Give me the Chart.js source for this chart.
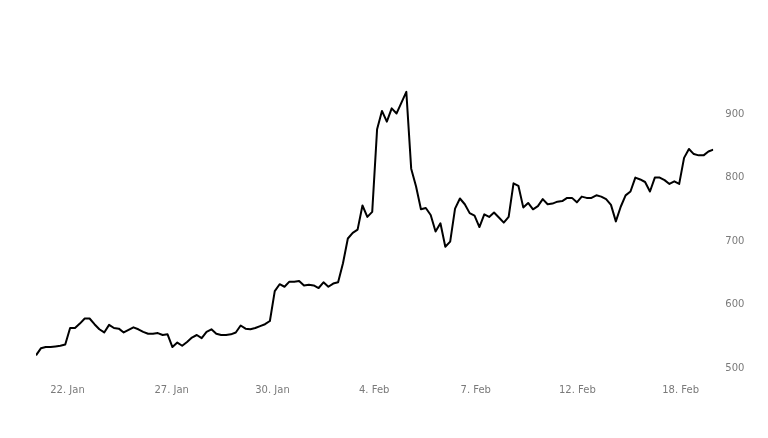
<!DOCTYPE html>
<html>
<head>
<meta charset="utf-8">
<title>Price chart</title>
<script src="https://cdn.jsdelivr.net/npm/chart.js@4.4.1/dist/chart.umd.min.js"></script>
<style>
    html, body { margin: 0; padding: 0; background: #fff; }
    #wrap { position: relative; width: 768px; height: 438px; }
</style>
</head>
<body>
<div id="wrap"><canvas id="priceChart"></canvas></div>
<script>
// Values, one per plotted point (left to right)
const prices = [
    520, 531, 533, 533, 534, 535, 537, 563, 563, 570,
    578, 578, 569, 561, 556, 568, 563, 562, 556, 560,
    564, 561, 557, 554, 554, 555, 552, 553, 533, 540,
    535, 541, 548, 552, 547, 557, 561, 554, 552, 552,
    553, 556, 567, 562, 561, 563, 566, 569, 574, 621,
    632, 628, 636, 636, 637, 630, 631, 630, 626, 635,
    628, 633, 635, 665, 704, 713, 718, 756, 738, 746,
    876, 905, 888, 909, 901, 918, 935, 814, 786, 750,
    752, 741, 715, 728, 691, 699, 751, 767, 758, 744,
    740, 722, 742, 738, 745, 737, 729, 738, 791, 787,
    753, 760, 750, 755, 766, 758, 759, 762, 763, 768,
    768, 761, 770, 768, 768, 772, 770, 766, 757, 731,
    754, 772, 778, 800, 797, 793, 778, 800, 800, 796,
    790, 794, 790, 831, 845, 837, 835, 835, 841, 844
];

// Date labels and where they sit along the point index
const xTickLabels = ['22. Jan', '27. Jan', '30. Jan', '4. Feb', '7. Feb', '12. Feb', '18. Feb'];
const xTickPositions = [6.46, 27.85, 48.53, 69.4, 90.25, 111.1, 132.3];

// Price ticks on the right
const yTicks = [500, 600, 700, 800, 900];

const tickFont = { family: "'DejaVu Sans', sans-serif", size: 10 };
const tickColor = '#7a7a7a';

const ctx = document.getElementById('priceChart').getContext('2d');

const priceChart = new Chart(ctx, {
    type: 'line',
    data: {
        datasets: [{
            label: 'Price',
            data: prices.map((v, i) => ({ x: i, y: v })),
            borderColor: '#000',
            borderWidth: 2,
            borderJoinStyle: 'round',
            pointRadius: 0,
            tension: 0,
            fill: false
        }]
    },
    options: {
        responsive: true,
        maintainAspectRatio: false,
        animation: false,
        layout: {
            padding: { top: 76, left: 36, right: 0, bottom: 0 }
        },
        plugins: {
            legend: { display: false },
            tooltip: { enabled: false }
        },
        scales: {
            x: {
                type: 'linear',
                min: 0,
                max: prices.length - 1,
                grid: { display: false },
                border: { display: false },
                afterBuildTicks: scale => {
                    scale.ticks = xTickPositions.map(v => ({ value: v }));
                },
                afterFit: scale => { scale.height = 57.3; },
                ticks: {
                    autoSkip: false,
                    maxRotation: 0,
                    padding: -4,
                    color: tickColor,
                    font: tickFont,
                    callback: (value, index) => xTickLabels[index]
                }
            },
            y: {
                position: 'right',
                min: 480,
                max: 960,
                grid: { display: false, drawTicks: false },
                border: { display: false },
                afterBuildTicks: scale => {
                    scale.ticks = yTicks.map(v => ({ value: v }));
                },
                afterFit: scale => { scale.width = 54.7; },
                ticks: {
                    padding: 12,
                    color: tickColor,
                    font: tickFont
                }
            }
        }
    }
});
</script>
</body>
</html>
